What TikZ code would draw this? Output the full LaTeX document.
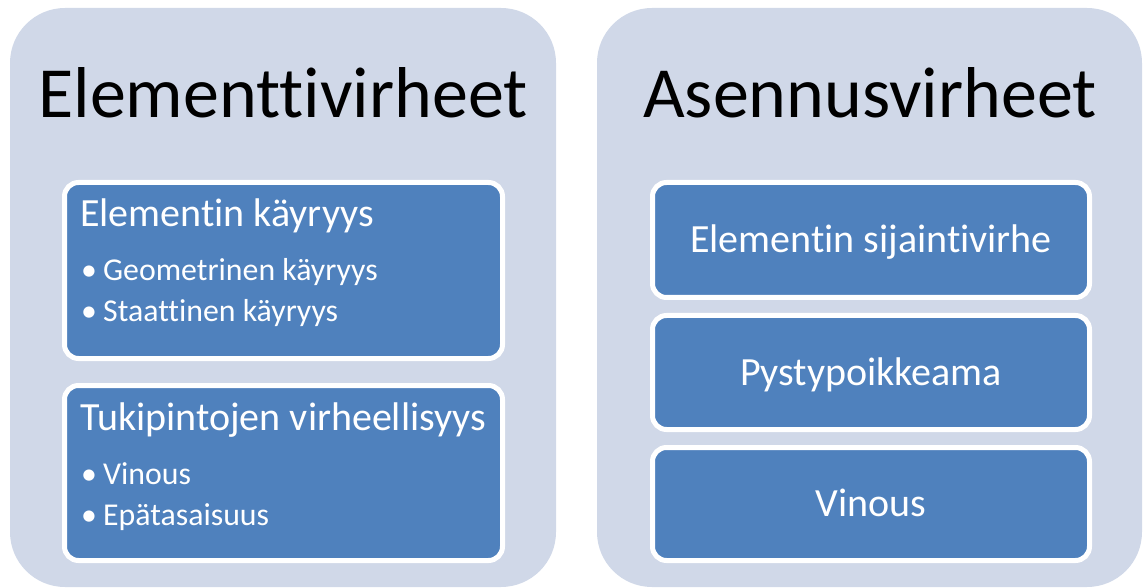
\documentclass[tikz,border=0pt]{standalone}
\usepackage{fontspec}
\setmainfont{Carlito}[Ligatures={NoCommon}]
\usetikzlibrary{positioning}
\definecolor{panelgrey}{RGB}{208,216,232}
\definecolor{boxblue}{RGB}{79,129,189}
\tikzset{
  panel/.style={fill=panelgrey, rounded corners=55pt},
  itembox/.style={fill=boxblue, draw=white, line width=5pt, rounded corners=14pt},
  title/.style={font=\fontsize{72}{76}\selectfont, text=black, inner sep=0pt, anchor=base},
  head/.style={font=\fontsize{40}{42}\selectfont, text=white, inner sep=0pt, anchor=base west},
  bullet/.style={font=\fontsize{31.8}{34}\selectfont, text=white, inner sep=0pt, anchor=base west},
}
\newcommand{\bitem}[1]{\makebox[22pt][l]{\textbullet}#1}
\begin{document}
\begin{tikzpicture}[x=1pt, y=-1pt]
  \useasboundingbox (0,0) rectangle (1144,588);
  % panels
  \fill[panel] (10,8) rectangle (556,587);
  \fill[panel] (597,8) rectangle (1142,587);
  \node[title] (elem) at (283,118) {Elementtivirheet};
  \node[title] (asen) at (870,118) {Asennusvirheet};
  % left column
  \draw[itembox] (64.5,182.5) rectangle (502.5,358.5);
  \draw[itembox] (64.5,385.5) rectangle (502.5,560.5);
  \coordinate (kay) at (80,227);
  \coordinate (tuki) at (80,430);
  \node[head] (kayh) at (kay) {Elementin käyryys};
  \node[bullet] (geom) at (81,281) {\bitem{Geometrinen käyryys}};
  \node[bullet] (staat) at (81,322) {\bitem{Staattinen käyryys}};
  \node[head] (tukih) at (tuki) {Tukipintojen virheellisyys};
  \node[bullet] (vin) at (81,484) {\bitem{Vinous}};
  \node[bullet] (epa) at (81,525) {\bitem{Epätasaisuus}};
  % right column
  \foreach \ya/\yb/\txt/\nm in {180/300/Elementin sijaintivirhe/sij,
                                313/432/Pystypoikkeama/pyst,
                                445/563/Vinous/vino}{
    \draw[itembox] (652.5,\ya+2.5) rectangle (1089.5,\yb-2.5);
    \node[font=\fontsize{40}{42}\selectfont, text=white, inner sep=0pt, anchor=base]
      (\nm) at (871,{(\ya+\yb)/2+12.5}) {\txt};
  }
\end{tikzpicture}
\end{document}
